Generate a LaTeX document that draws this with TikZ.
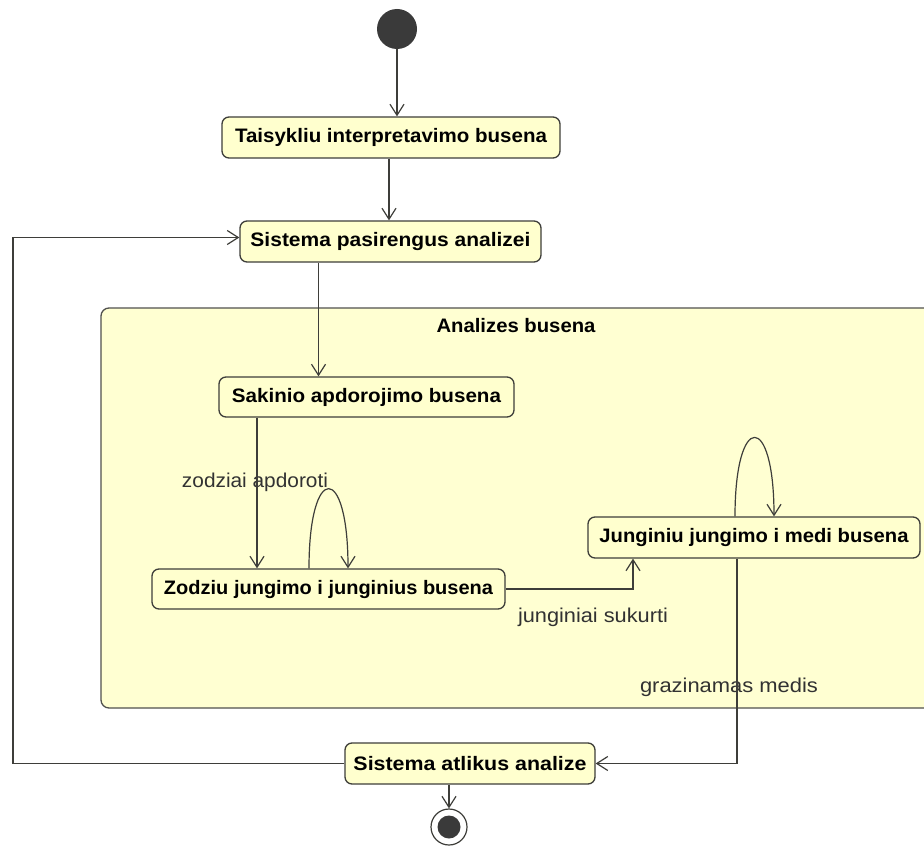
\documentclass[tikz,border=0pt]{standalone}
\usepackage{fontspec}
\setmainfont{Liberation Sans}
\usetikzlibrary{arrows.meta,calc}
\definecolor{statefill}{RGB}{255,255,206}
\definecolor{compfill}{RGB}{255,255,210}
\definecolor{edgecol}{RGB}{62,62,58}
\definecolor{lblcol}{RGB}{50,50,50}
\definecolor{dotcol}{RGB}{58,58,58}
\newcommand{\fitw}[2]{\resizebox{#1pt}{\height}{#2}}
\begin{document}
\begin{tikzpicture}[x=1pt,y=-1pt,
  statebox/.style={draw=edgecol, fill=statefill, line width=1.3pt, rounded corners=7pt,
    inner sep=0pt, font=\bfseries\fontsize{19.5}{21}\selectfont, text=black},
  compbox/.style={draw=edgecol!90, fill=compfill, line width=1.3pt, rounded corners=8pt, inner sep=0pt},
  conn/.style={draw=edgecol, line width=1.2pt, -{Straight Barb[length=11pt,width=14pt,line width=1.2pt]}},
  lab/.style={font=\fontsize{20}{22}\selectfont, text=lblcol, inner sep=0pt},
  comptitle/.style={font=\bfseries\fontsize{19.5}{21}\selectfont, text=black, inner sep=0pt}]
\useasboundingbox (0,0) rectangle (924,848);
\clip (0,0) rectangle (924,848);
\fill[white] (0,0) rectangle (924,848);

% composite state
\node[compbox, minimum width=839pt, minimum height=400pt] (comp) at (520.5,508) {};
\node[comptitle] (ctitle) at (516,326) {\fitw{159}{Analizes busena}};

% pseudo states
\node[circle, fill=dotcol, minimum size=40pt, inner sep=0pt] (init) at (397,29) {};
\node[circle, draw=edgecol, line width=1.2pt, fill=white, minimum size=36pt, inner sep=0pt] (fin) at (449,827) {};
\node[circle, fill=dotcol, minimum size=23pt, inner sep=0pt] (finin) at (fin) {};

% states
\node[statebox, minimum width=338pt, minimum height=41pt] (s1) at (391,137.5) {\fitw{312}{Taisykliu interpretavimo busena}};
\node[statebox, minimum width=301pt, minimum height=41pt] (s2) at (390.5,241.5) {\fitw{280}{Sistema pasirengus analizei}};
\node[statebox, minimum width=295pt, minimum height=40pt] (sak) at (366.5,397) {\fitw{269}{Sakinio apdorojimo busena}};
\node[statebox, minimum width=353pt, minimum height=40pt] (zod) at (328.5,589) {\fitw{329}{Zodziu jungimo i junginius busena}};
\node[statebox, minimum width=332pt, minimum height=41pt] (jun) at (754,537.5) {\fitw{309}{Junginiu jungimo i medi busena}};
\node[statebox, minimum width=250pt, minimum height=41pt] (sa) at (470,763.5) {\fitw{233}{Sistema atlikus analize}};

% labels
\node[lab] (l1) at (255,482) {\fitw{146}{zodziai apdoroti}};
\node[lab] (l2) at (593,617) {\fitw{150}{junginiai sukurti}};
\node[lab] (l3) at (729,687) {\fitw{178}{grazinamas medis}};

\coordinate (lc) at (13,763.5);

% connectors
\draw[conn] (init.south) -- (init.south |- s1.north);
\draw[conn] ([xshift=-2pt]s1.south) coordinate (a0) -- (a0 |- s2.north);
\draw[conn] ([xshift=-72pt]s2.south) coordinate (a1) -- (a1 |- sak.north);
\draw[conn] ([xshift=-109.5pt]sak.south) coordinate (a2) -- (a2 |- zod.north);
\draw[conn] ([xshift=-19.5pt]zod.north) .. controls +(0,-106) and +(0,-106) .. ([xshift=19.5pt]zod.north);
\draw[conn] ([xshift=-19pt]jun.north) .. controls +(0,-105) and +(0,-105) .. ([xshift=20pt]jun.north);
\draw[conn] (zod.east) -| ([xshift=-121pt]jun.south);
\draw[conn] ([xshift=-17pt]jun.south) |- (sa.east);
\draw[conn] (sa.west) -- (lc) |- ([yshift=4pt]s2.west);
\draw[conn] (fin |- sa.south) -- (fin.north);
\end{tikzpicture}
\end{document}
